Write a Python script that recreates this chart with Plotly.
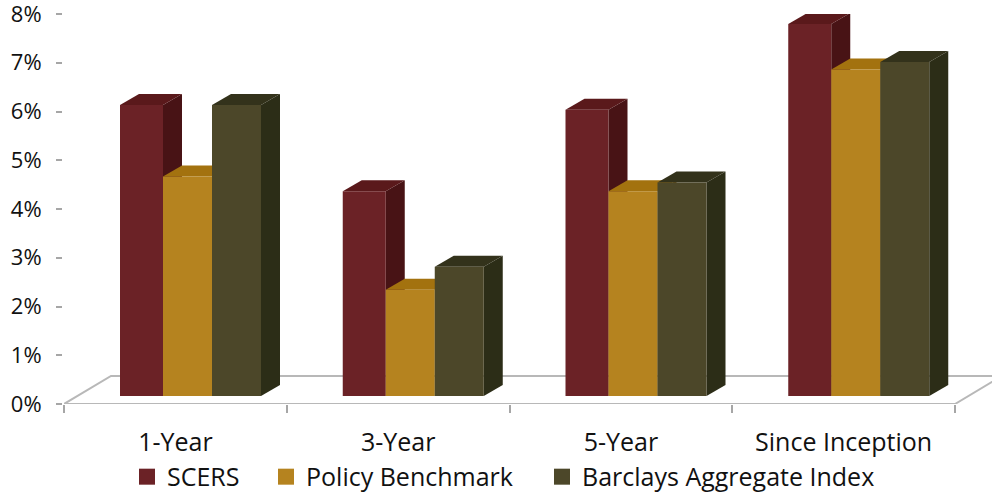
import plotly.graph_objects as go

# Annualised returns, percent
periods = ["1-Year", "3-Year", "5-Year", "Since Inception"]
scers = [5.97, 4.2, 5.87, 7.63]
policy = [4.5, 2.18, 4.2, 6.7]
barclays = [5.97, 2.65, 4.38, 6.85]
value_ticks = [0, 1, 2, 3, 4, 5, 6, 7, 8]
value_labels = ["0%", "1%", "2%", "3%", "4%", "5%", "6%", "7%", "8%"]

# Pseudo-3D geometry, expressed in axis units
PX_X = 222.75
PX_Y = 48.75
BASE = 8 / PX_Y
DEPTH_X = 19 / PX_X
DEPTH_Y = 11 / PX_Y
FLOOR_X = 47 / PX_X
FLOOR_Y = 28 / PX_Y
FONT = "Open Sans, Lato, sans-serif"

series = [
    ("SCERS", scers, 56 / PX_X, 43 / PX_X, "#6b2226", "#5a191b", "#481315", "legend", 0.0679),
    ("Policy Benchmark", policy, 99 / PX_X, 49 / PX_X, "#b5831f", "#a3720f", "#8a6010", "legend2", 0.2177),
    ("Barclays Aggregate Index", barclays, 148 / PX_X, 49 / PX_X, "#4c4729", "#33321b", "#2c2d17", "legend3", 0.5151),
]

fig = go.Figure()

# Floor plane behind the columns
fig.add_trace(go.Scatter(
    x=[0, 4, 4 + FLOOR_X, FLOOR_X, 0],
    y=[0, 0, FLOOR_Y, FLOOR_Y, 0],
    mode="lines", line=dict(color="#b8b8b8", width=2),
    fill="toself", fillcolor="#ffffff",
    hoverinfo="skip", showlegend=False, zorder=0,
))

legends = {}
for i, (name, values, start, width, front, top, side, legend_id, legend_x) in enumerate(series):
    left = [g + start for g in range(len(values))]
    right = [l + width for l in left]
    for l, r, v in zip(left, right, values):
        h = v + BASE
        # right-hand face
        fig.add_trace(go.Scatter(
            x=[r, r + DEPTH_X, r + DEPTH_X, r, r],
            y=[BASE, BASE + DEPTH_Y, h + DEPTH_Y, h, BASE],
            mode="lines", line=dict(width=0), fill="toself", fillcolor=side,
            hoverinfo="skip", showlegend=False, zorder=2 * i + 1,
        ))
        # upper face
        fig.add_trace(go.Scatter(
            x=[l, r, r + DEPTH_X, l + DEPTH_X, l],
            y=[h, h, h + DEPTH_Y, h + DEPTH_Y, h],
            mode="lines", line=dict(width=0), fill="toself", fillcolor=top,
            hoverinfo="skip", showlegend=False, zorder=2 * i + 1,
        ))
    # front faces
    fig.add_trace(go.Bar(
        x=[l + width / 2 for l in left], y=values, base=BASE, width=width,
        marker=dict(color=front, line=dict(width=0)),
        name=name, showlegend=False, zorder=2 * i + 2,
    ))
    # legend swatch, each series keeps its own legend box
    fig.add_trace(go.Scatter(
        x=[None], y=[None], mode="markers", name=name, legend=legend_id,
        marker=dict(symbol="square", size=16, color=front), showlegend=True,
    ))
    legends[legend_id] = dict(
        orientation="h", x=legend_x, y=-0.187, xanchor="left", yanchor="middle",
        font=dict(size=25, family=FONT), itemwidth=30, bgcolor="rgba(0,0,0,0)",
    )

# Tick marks on the category boundaries
fig.add_trace(go.Scatter(
    x=[0, 4], y=[0, 0], xaxis="x2", mode="markers", marker=dict(opacity=0),
    hoverinfo="skip", showlegend=False,
))

x_range = [0, (992 - 64) / PX_X]
fig.update_layout(
    width=992, height=495, autosize=False,
    margin=dict(l=64, r=0, t=14, b=91, autoexpand=False),
    paper_bgcolor="#ffffff", plot_bgcolor="#ffffff",
    font=dict(family=FONT, color="#111111", size=25),
    barmode="overlay", showlegend=True,
    xaxis=dict(
        range=x_range, tickvals=[g + 0.5 for g in range(4)], ticktext=periods,
        ticks="", showgrid=False, zeroline=False, showline=False,
        tickfont=dict(size=25), automargin=False, ticklabelstandoff=21,
    ),
    xaxis2=dict(
        range=x_range, overlaying="x", side="bottom", tickvals=[0, 1, 2, 3, 4],
        ticks="outside", ticklen=8, tickcolor="#a6a6a6", tickwidth=1.5,
        showticklabels=False, showgrid=False, zeroline=False, showline=False,
    ),
    yaxis=dict(
        range=[0, 8], tickvals=value_ticks, ticktext=value_labels,
        ticks="outside", ticklen=6, tickcolor="#a6a6a6", tickwidth=1.5,
        showgrid=False, zeroline=False, showline=True, linecolor="#b8b8b8", linewidth=2,
        tickfont=dict(size=22), automargin=False, ticklabelstandoff=10,
        ticklabeloverflow="allow",
    ),
    **legends,
)

fig.write_html("out.html")
